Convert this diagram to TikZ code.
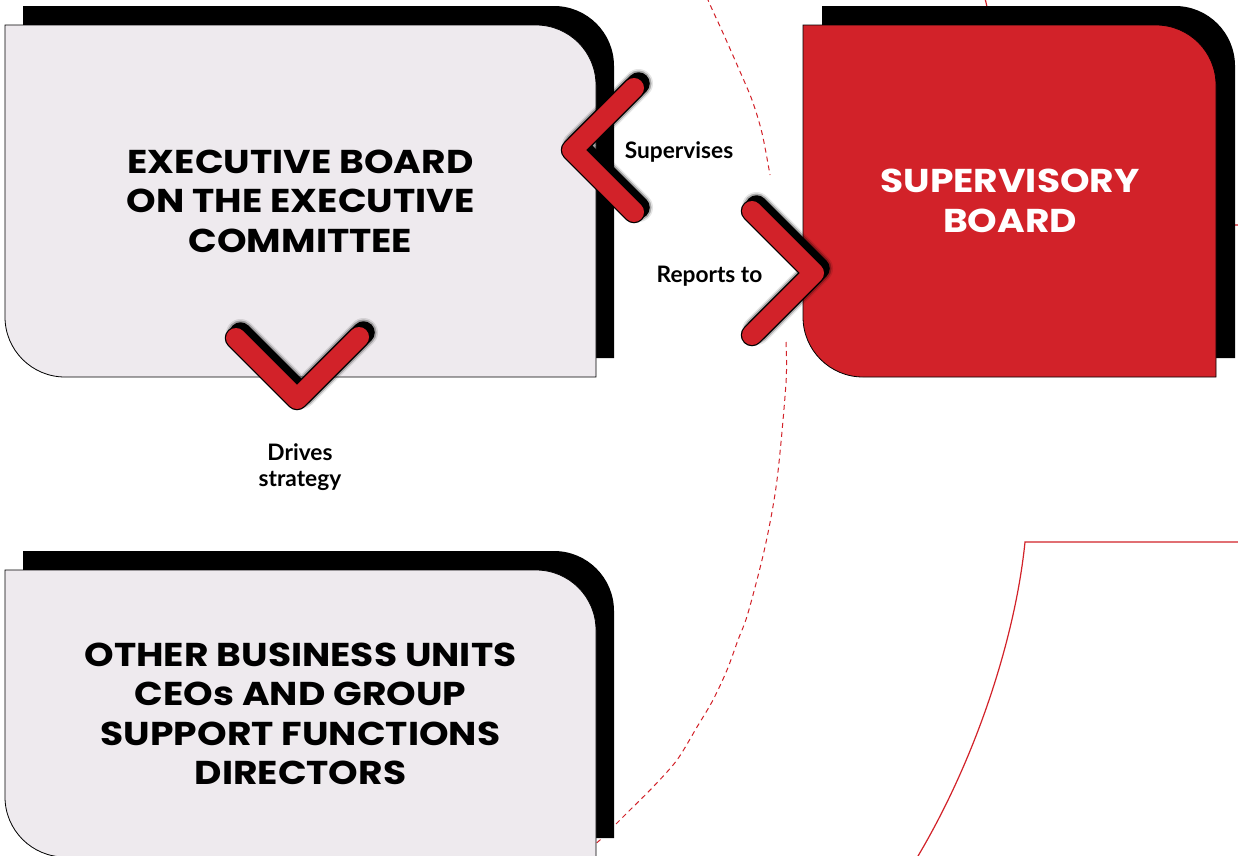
\documentclass[tikz,border=0pt]{standalone}
\usepackage{fontspec}
\setmainfont{Lato}
\newfontfamily\headfont{Poppins}[FakeStretch=1.14]
\definecolor{brandred}{RGB}{210,34,41}
\definecolor{boxgrey}{RGB}{238,234,238}
\tikzset{
  heading/.style={align=center, inner sep=0pt, font=\headfont\bfseries\fontsize{33}{39.5}\selectfont},
  label/.style={align=center, inner sep=0pt, font=\bfseries\fontsize{22.7}{26}\selectfont},
  guide/.style={draw=brandred, line width=1.2pt},
  chevshade/.style={draw=black, line cap=round, line join=round},
}
% card: #1 style, x1 y1 x2 y2 r
\newcommand\cardfill[6]{%
  \path[#1] (#2,#3) -- ({#4-#6},#3) .. controls ({#4-0.4477*#6},#3) and (#4,{#3+0.4477*#6}) .. (#4,{#3+#6})
    -- (#4,#5) -- ({#2+#6},#5) .. controls ({#2+0.4477*#6},#5) and (#2,{#5-0.4477*#6}) .. (#2,{#5-#6}) -- cycle;}
% chevron through three points
\newcommand\chevron[6]{%
  \begin{scope}[shift={(4.5,-4.5)}]
    \draw[chevshade, line width=29pt, opacity=0.10] (#1,#2) -- (#3,#4) -- (#5,#6);
    \draw[chevshade, line width=26pt, opacity=0.25] (#1,#2) -- (#3,#4) -- (#5,#6);
    \draw[chevshade, line width=22.5pt] (#1,#2) -- (#3,#4) -- (#5,#6);
  \end{scope}
  \draw[chevshade, line width=22.5pt] (#1,#2) -- (#3,#4) -- (#5,#6);
  \draw[draw=brandred, line cap=round, line join=round, line width=20pt] (#1,#2) -- (#3,#4) -- (#5,#6);}
\begin{document}
\begin{tikzpicture}[x=1pt, y=-1pt]
\useasboundingbox (0,0) rectangle (1238,855);
\fill[white] (0,0) rectangle (1238,855);

% background guide lines
\draw[guide, line width=1pt, dash pattern=on 5pt off 4pt] plot[smooth] coordinates {(701,-20) (708,0) (723,33) (738,67) (752,100) (762,133) (770,175)};
\draw[guide, line width=1pt, dash pattern=on 5pt off 4pt] plot[smooth] coordinates {(786,342) (786,383) (777,480) (765,547) (748,613) (738,640) (727,670) (713,700) (697,727) (677,760) (653,787) (630,810) (615,825) (600,840) (585,852)};
\draw[guide] (1245,542) -- (1025,542) .. controls (1015,640) and (975,760) .. (918,856) -- (916,860);
\draw[guide] (984,-6) .. controls (1000,60) and (1010,150) .. (1015,225) -- (1245,225);

% cards: shadows then fronts
\cardfill{fill=black}{23}{6}{614}{358}{60}
\cardfill{fill=boxgrey, draw=black, line width=0.8pt}{5}{25}{596}{377}{60}
\cardfill{fill=black}{822}{6}{1235}{358}{60}
\cardfill{fill=brandred, draw=black, line width=0.8pt}{803}{25}{1216}{377}{60}
\cardfill{fill=black}{23}{551}{614}{838}{60}
\cardfill{fill=boxgrey, draw=black, line width=0.8pt}{5}{570}{596}{857}{60}

% chevrons
\chevron{634}{88}{572}{150}{634}{212}
\chevron{752}{211}{814}{273}{752}{335}
\chevron{236}{338}{297}{399}{359}{337}

% texts
\node[heading] (exec) at (300.5,201) {EXECUTIVE BOARD\\ON THE EXECUTIVE\\COMMITTEE};
\node[heading, text=white] (sup) at (1010,201) {SUPERVISORY\\BOARD};
\node[heading] (other) at (300.5,714) {OTHER BUSINESS UNITS\\CEOs AND GROUP\\SUPPORT FUNCTIONS\\DIRECTORS};
\node[label] (supervises) at (679,152) {Supervises};
\node[label] (reports) at (709.5,276) {Reports to};
\node[label] (drives) at (300,467) {Drives\\strategy};
\end{tikzpicture}
\end{document}
